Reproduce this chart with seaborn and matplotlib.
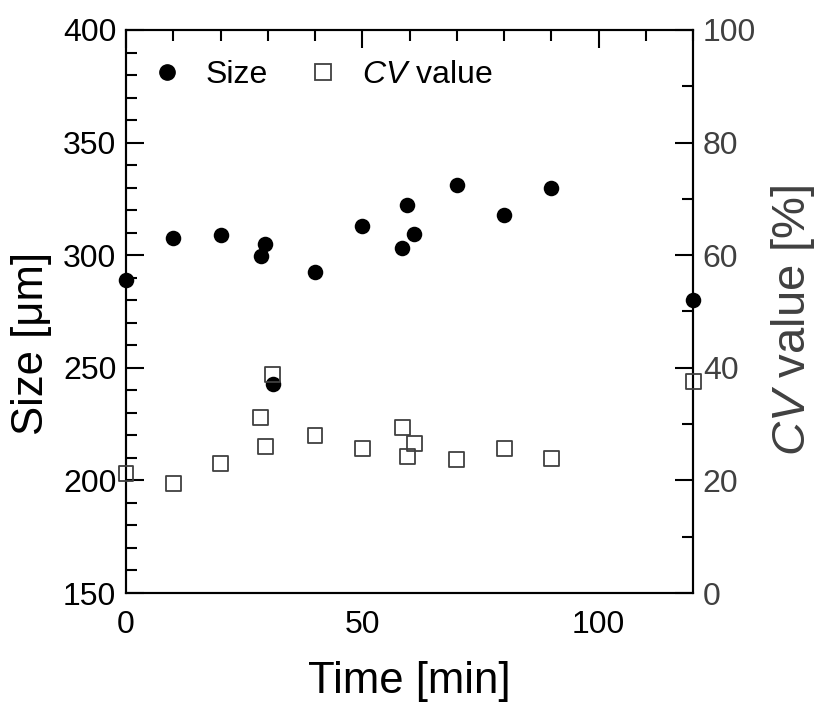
import matplotlib
matplotlib.use("Agg")
import matplotlib.pyplot as plt
import seaborn as sns
import pandas as pd
from matplotlib.ticker import MultipleLocator
from matplotlib.lines import Line2D

# values
time_min = [0, 10, 20, 28.5, 29.5, 31, 40, 50, 58.5, 59.5, 61, 70, 80, 90, 120]
size_um = [289, 307.5, 309, 299.5, 305, 243, 292.5, 313, 303, 322.5, 309.5, 331, 318, 330, 280]
cv_pct = [21.2, 19.4, 23.0, 31.1, 26.1, 38.8, 27.9, 25.7, 29.4, 24.2, 26.5, 23.7, 25.6, 23.9, 37.5]

df = pd.DataFrame({"time": time_min, "size": size_um, "cv": cv_pct})

sns.set_style("white", rc={"text.color": "black", "axes.labelcolor": "black",
                           "xtick.color": "black", "ytick.color": "black"})
plt.rcParams["font.family"] = ["Liberation Sans", "DejaVu Sans"]
plt.rcParams["mathtext.fontset"] = "custom"
plt.rcParams["mathtext.rm"] = "Liberation Sans"
plt.rcParams["mathtext.it"] = "Liberation Sans:italic"

grey = "#404040"

fig = plt.figure(figsize=(8.2, 7.09), dpi=100)
ax = fig.add_axes([0.1537, 0.1636, 0.6915, 0.7941])
ax2 = ax.twinx()

sns.scatterplot(data=df, x="time", y="size", ax=ax, color="black", marker="o",
                s=125, edgecolor="black", linewidth=0, clip_on=False, zorder=3)
sns.scatterplot(data=df, x="time", y="cv", ax=ax2, marker="s", s=115,
                facecolor="none", edgecolor=grey, linewidth=1.3, clip_on=False, zorder=3)

ax.set_xlim(0, 120)
ax.set_ylim(150, 400)
ax2.set_ylim(0, 100)

ax.xaxis.set_major_locator(MultipleLocator(50))
ax.xaxis.set_minor_locator(MultipleLocator(10))
ax.yaxis.set_major_locator(MultipleLocator(50))
ax.yaxis.set_minor_locator(MultipleLocator(10))
ax2.yaxis.set_major_locator(MultipleLocator(20))
ax2.yaxis.set_minor_locator(MultipleLocator(10))

ax.tick_params(which="both", direction="in", top=True, right=False, width=1.5,
               labelsize=23, colors="black")
ax.tick_params(which="major", length=13)
ax.tick_params(which="minor", length=8)
ax.tick_params(axis="x", pad=12)
ax.tick_params(axis="y", pad=7)
ax2.tick_params(which="both", direction="in", width=1.5, labelsize=23,
                color="black", labelcolor=grey, pad=7)
ax2.tick_params(which="major", length=13)
ax2.tick_params(which="minor", length=8)

for a in (ax, ax2):
    for sp in a.spines.values():
        sp.set_linewidth(1.5)
        sp.set_color("black")

ax.set_xlabel("Time [min]", fontsize=31.5, labelpad=15, color="black")
ax.set_ylabel("Size [μm]", fontsize=31.5, color="black")
ax.yaxis.set_label_coords(-0.13, 0.443)
ax2.set_ylabel(r"$\it{CV}$ value [%]", fontsize=34, color=grey)
ax2.yaxis.set_label_coords(1.134, 0.484)

handles = [
    Line2D([], [], ls="none", marker="o", color="black", markersize=11),
    Line2D([], [], ls="none", marker="s", markerfacecolor="none",
           markeredgecolor=grey, markeredgewidth=1.3, markersize=11),
]
leg = ax.legend(handles, ["Size", r"$\it{CV}$ value"], loc="upper left", ncol=2,
                frameon=False, fontsize=23, handlelength=1.5, handletextpad=0.45,
                columnspacing=1.0, borderaxespad=0, borderpad=0.4,
                bbox_to_anchor=(0.007, 0.969))
for t in leg.get_texts():
    t.set_color("black")

fig.savefig("out.png", dpi=100)
